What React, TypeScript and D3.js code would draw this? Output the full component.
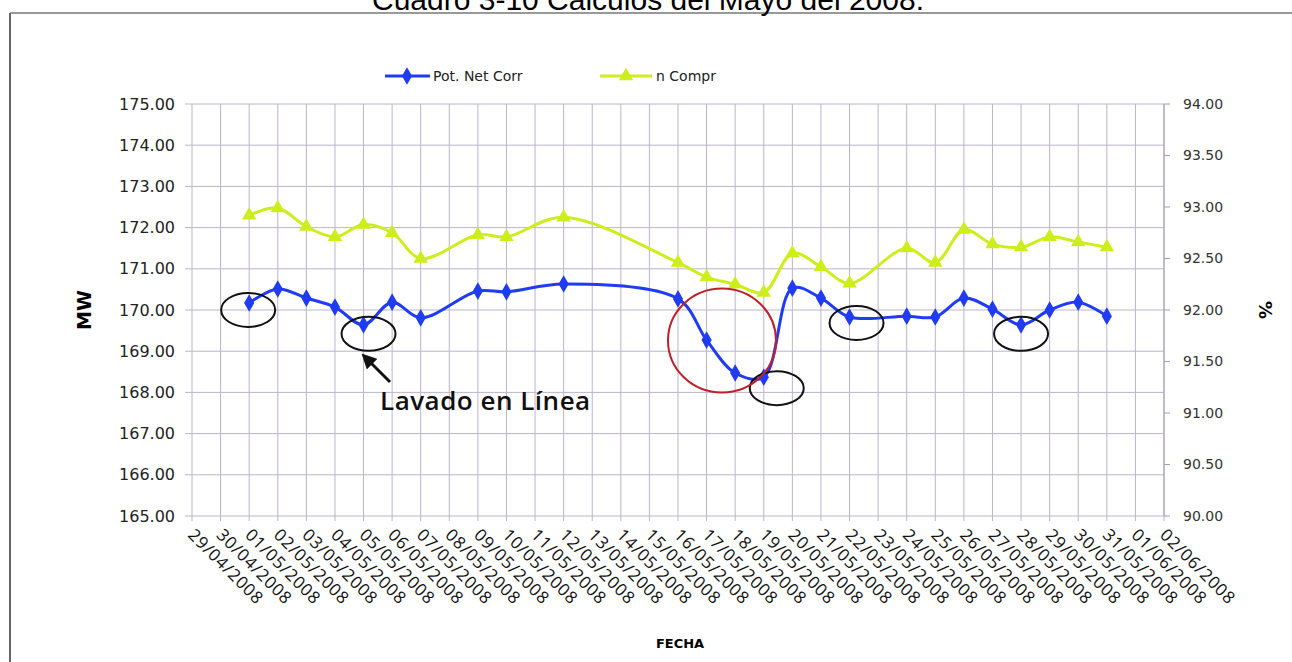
import { useEffect, useRef } from 'react';
import * as d3 from 'd3';

// category labels on the date axis
const fechas = [
  '29/04/2008', '30/04/2008', '01/05/2008', '02/05/2008', '03/05/2008', '04/05/2008',
  '05/05/2008', '06/05/2008', '07/05/2008', '08/05/2008', '09/05/2008', '10/05/2008',
  '11/05/2008', '12/05/2008', '13/05/2008', '14/05/2008', '15/05/2008', '16/05/2008',
  '17/05/2008', '18/05/2008', '19/05/2008', '20/05/2008', '21/05/2008', '22/05/2008',
  '23/05/2008', '24/05/2008', '25/05/2008', '26/05/2008', '27/05/2008', '28/05/2008',
  '29/05/2008', '30/05/2008', '31/05/2008', '01/06/2008', '02/06/2008',
];

// days that have measurements
const diasMedidos = [
  '01/05/2008', '02/05/2008', '03/05/2008', '04/05/2008', '05/05/2008', '06/05/2008',
  '07/05/2008', '09/05/2008', '10/05/2008', '12/05/2008', '16/05/2008', '17/05/2008',
  '18/05/2008', '19/05/2008', '20/05/2008', '21/05/2008', '22/05/2008', '24/05/2008',
  '25/05/2008', '26/05/2008', '27/05/2008', '28/05/2008', '29/05/2008', '30/05/2008',
  '31/05/2008',
];

const potNetCorr = [
  170.17, 170.51, 170.29, 170.07, 169.64, 170.19, 169.81, 170.46, 170.44, 170.63,
  170.27, 169.27, 168.47, 168.37, 170.53, 170.29, 169.83, 169.85, 169.83, 170.29,
  170.02, 169.64, 170.0, 170.19, 169.85,
];

const nCompr = [
  92.92, 92.99, 92.81, 92.71, 92.83, 92.75, 92.5, 92.73, 92.71, 92.9,
  92.46, 92.32, 92.25, 92.17, 92.55, 92.42, 92.26, 92.6, 92.46, 92.78,
  92.64, 92.61, 92.71, 92.66, 92.61,
];

const mwTicks = [165, 166, 167, 168, 169, 170, 171, 172, 173, 174, 175];
const pctTicks = [90, 90.5, 91, 91.5, 92, 92.5, 93, 93.5, 94];

// hand-drawn circles on the chart: day and offset from its point
const circulos = ['01/05/2008', '05/05/2008', '19/05/2008', '22/05/2008', '28/05/2008'];
const circDx = [-1, 5, 13, 7, 0];
const circDy = [7, 9, 11, 6, 9];

export default function App() {
  const svgRef = useRef<SVGSVGElement>(null);
  const width = 1292;
  const height = 662;
  const left = 192;
  const right = 1164;
  const top = 104;
  const bottom = 516;

  useEffect(() => {
    const svg = d3.select(svgRef.current);
    svg.selectAll('*').remove();

    const x = d3.scalePoint<string>().domain(fechas).range([left, right]);
    const yL = d3.scaleLinear().domain([165, 175]).range([bottom, top]);
    const yR = d3.scaleLinear().domain([90, 94]).range([bottom, top]);

    svg.append('rect').attr('width', width).attr('height', height).attr('fill', '#fff');

    // frame
    svg.append('line').attr('x1', 10).attr('x2', width).attr('y1', 13).attr('y2', 13)
      .attr('stroke', '#777').attr('stroke-width', 1.5);
    svg.append('line').attr('x1', 10).attr('x2', 10).attr('y1', 13).attr('y2', height)
      .attr('stroke', '#666').attr('stroke-width', 2);

    // title (cut at top as in the scan)
    svg.append('text').attr('x', 648).attr('y', 10).attr('text-anchor', 'middle')
      .attr('font-family', 'Liberation Sans, Arial').attr('font-size', 30)
      .text('Cuadro 3-10 Cálculos del Mayo del 2008.');

    // grid
    const grid = svg.append('g').attr('stroke', '#bcb4cc').attr('stroke-width', 1);
    grid.selectAll('.h').data(mwTicks).join('line')
      .attr('x1', left - 7).attr('x2', right)
      .attr('y1', d => yL(d)).attr('y2', d => yL(d));
    grid.selectAll('.v').data(fechas).join('line')
      .attr('x1', d => x(d)!).attr('x2', d => x(d)!)
      .attr('y1', top).attr('y2', bottom + 5);
    svg.append('line').attr('x1', right).attr('x2', right).attr('y1', top).attr('y2', bottom)
      .attr('stroke', '#a39cb3');
    svg.append('g').selectAll('line').data(pctTicks).join('line')
      .attr('x1', right).attr('x2', right + 6)
      .attr('y1', d => yR(d)).attr('y2', d => yR(d)).attr('stroke', '#a39cb3');

    // left axis labels
    svg.append('g').selectAll('text').data(mwTicks).join('text')
      .attr('x', 175).attr('y', d => yL(d)).attr('dy', '0.35em')
      .attr('text-anchor', 'end').attr('font-family', 'DejaVu Sans').attr('font-size', 16)
      .attr('fill', '#222').text(d => d.toFixed(2));

    // right axis labels
    svg.append('g').selectAll('text').data(pctTicks).join('text')
      .attr('x', 1183).attr('y', d => yR(d)).attr('dy', '0.35em')
      .attr('font-family', 'DejaVu Sans').attr('font-size', 14)
      .attr('fill', '#333').text(d => d.toFixed(2));

    // x labels rotated
    svg.append('g').selectAll('text').data(fechas).join('text')
      .attr('transform', d => `translate(${x(d)! - 5},${bottom + 20}) rotate(45)`)
      .attr('font-family', 'Open Sans').attr('font-size', 17).attr('letter-spacing', 0.8)
      .attr('fill', '#111').text(d => d);

    // axis titles
    svg.append('text').attr('transform', `translate(91,310) rotate(-90)`)
      .attr('text-anchor', 'middle').attr('font-family', 'DejaVu Sans').attr('font-weight', 'bold')
      .attr('font-size', 19).text('MW');
    svg.append('text').attr('transform', `translate(1259,310) rotate(90)`)
      .attr('text-anchor', 'middle').attr('font-family', 'DejaVu Sans').attr('font-weight', 'bold')
      .attr('font-size', 18).text('%');
    svg.append('text').attr('x', 680).attr('y', 648).attr('text-anchor', 'middle')
      .attr('font-family', 'DejaVu Sans').attr('font-weight', 'bold').attr('font-size', 13)
      .text('FECHA');

    const blue = '#1f3cf2';
    const yellow = '#cdee1c';
    const curve = d3.curveCatmullRom.alpha(0.5);

    const lineB = d3.line<number>().x((_, i) => x(diasMedidos[i])!).y(d => yL(d)).curve(curve);
    const lineY = d3.line<number>().x((_, i) => x(diasMedidos[i])!).y(d => yR(d)).curve(curve);

    svg.append('path').datum(nCompr).attr('d', lineY).attr('fill', 'none')
      .attr('stroke', yellow).attr('stroke-width', 3);
    const tri = d3.symbol().type(d3.symbolTriangle).size(90);
    svg.append('g').selectAll('path').data(nCompr).join('path')
      .attr('d', tri).attr('fill', yellow)
      .attr('transform', (d, i) => `translate(${x(diasMedidos[i])},${yR(d)})`);

    svg.append('path').datum(potNetCorr).attr('d', lineB).attr('fill', 'none')
      .attr('stroke', blue).attr('stroke-width', 3);
    const dia = d3.symbol().type(d3.symbolDiamond).size(90);
    svg.append('g').selectAll('path').data(potNetCorr).join('path')
      .attr('d', dia).attr('fill', blue)
      .attr('transform', (d, i) => `translate(${x(diasMedidos[i])},${yL(d)})`);

    // legend
    const lg = svg.append('g').attr('font-family', 'DejaVu Sans').attr('font-size', 14).attr('fill', '#222');
    lg.append('line').attr('x1', 385).attr('x2', 430).attr('y1', 76).attr('y2', 76)
      .attr('stroke', blue).attr('stroke-width', 3);
    lg.append('path').attr('d', dia).attr('fill', blue).attr('transform', 'translate(407,76)');
    lg.append('text').attr('x', 433).attr('y', 81).text('Pot. Net Corr');
    lg.append('line').attr('x1', 600).attr('x2', 652).attr('y1', 76).attr('y2', 76)
      .attr('stroke', yellow).attr('stroke-width', 3);
    lg.append('path').attr('d', tri).attr('fill', yellow).attr('transform', 'translate(626,76)');
    lg.append('text').attr('x', 656).attr('y', 81).text('n Compr');

    // annotations
    const ann = svg.append('g').attr('fill', 'none');
    ann.selectAll('ellipse').data(circulos).join('ellipse')
      .attr('cx', (d, i) => x(d)! + circDx[i])
      .attr('cy', (d, i) => yL(potNetCorr[diasMedidos.indexOf(d)]) + circDy[i])
      .attr('rx', 27).attr('ry', 17)
      .attr('stroke', '#111').attr('stroke-width', 2);
    ann.append('ellipse').attr('cx', 722).attr('cy', yL(169.26)).attr('rx', 54).attr('ry', 52)
      .attr('stroke', '#c0202a').attr('stroke-width', 2);

    svg.append('defs').append('marker').attr('id', 'ah').attr('viewBox', '0 0 10 10')
      .attr('refX', 2).attr('refY', 5).attr('markerWidth', 5).attr('markerHeight', 5)
      .attr('orient', 'auto-start-reverse')
      .append('path').attr('d', 'M0,0L10,5L0,10z').attr('fill', '#111');
    svg.append('line').attr('x1', 390).attr('y1', 382).attr('x2', 370).attr('y2', 362)
      .attr('stroke', '#111').attr('stroke-width', 3).attr('marker-end', 'url(#ah)');
    svg.append('text').attr('x', 380).attr('y', 410).attr('font-family', 'Open Sans')
      .attr('font-size', 26).attr('font-weight', 600).attr('letter-spacing', 0.5)
      .attr('fill', '#111').text('Lavado en Línea');
  }, []);

  return (
    <svg ref={svgRef} width={width} height={height}
      style={{ display: 'block', position: 'absolute', left: 0, top: 0 }} />
  );
}
